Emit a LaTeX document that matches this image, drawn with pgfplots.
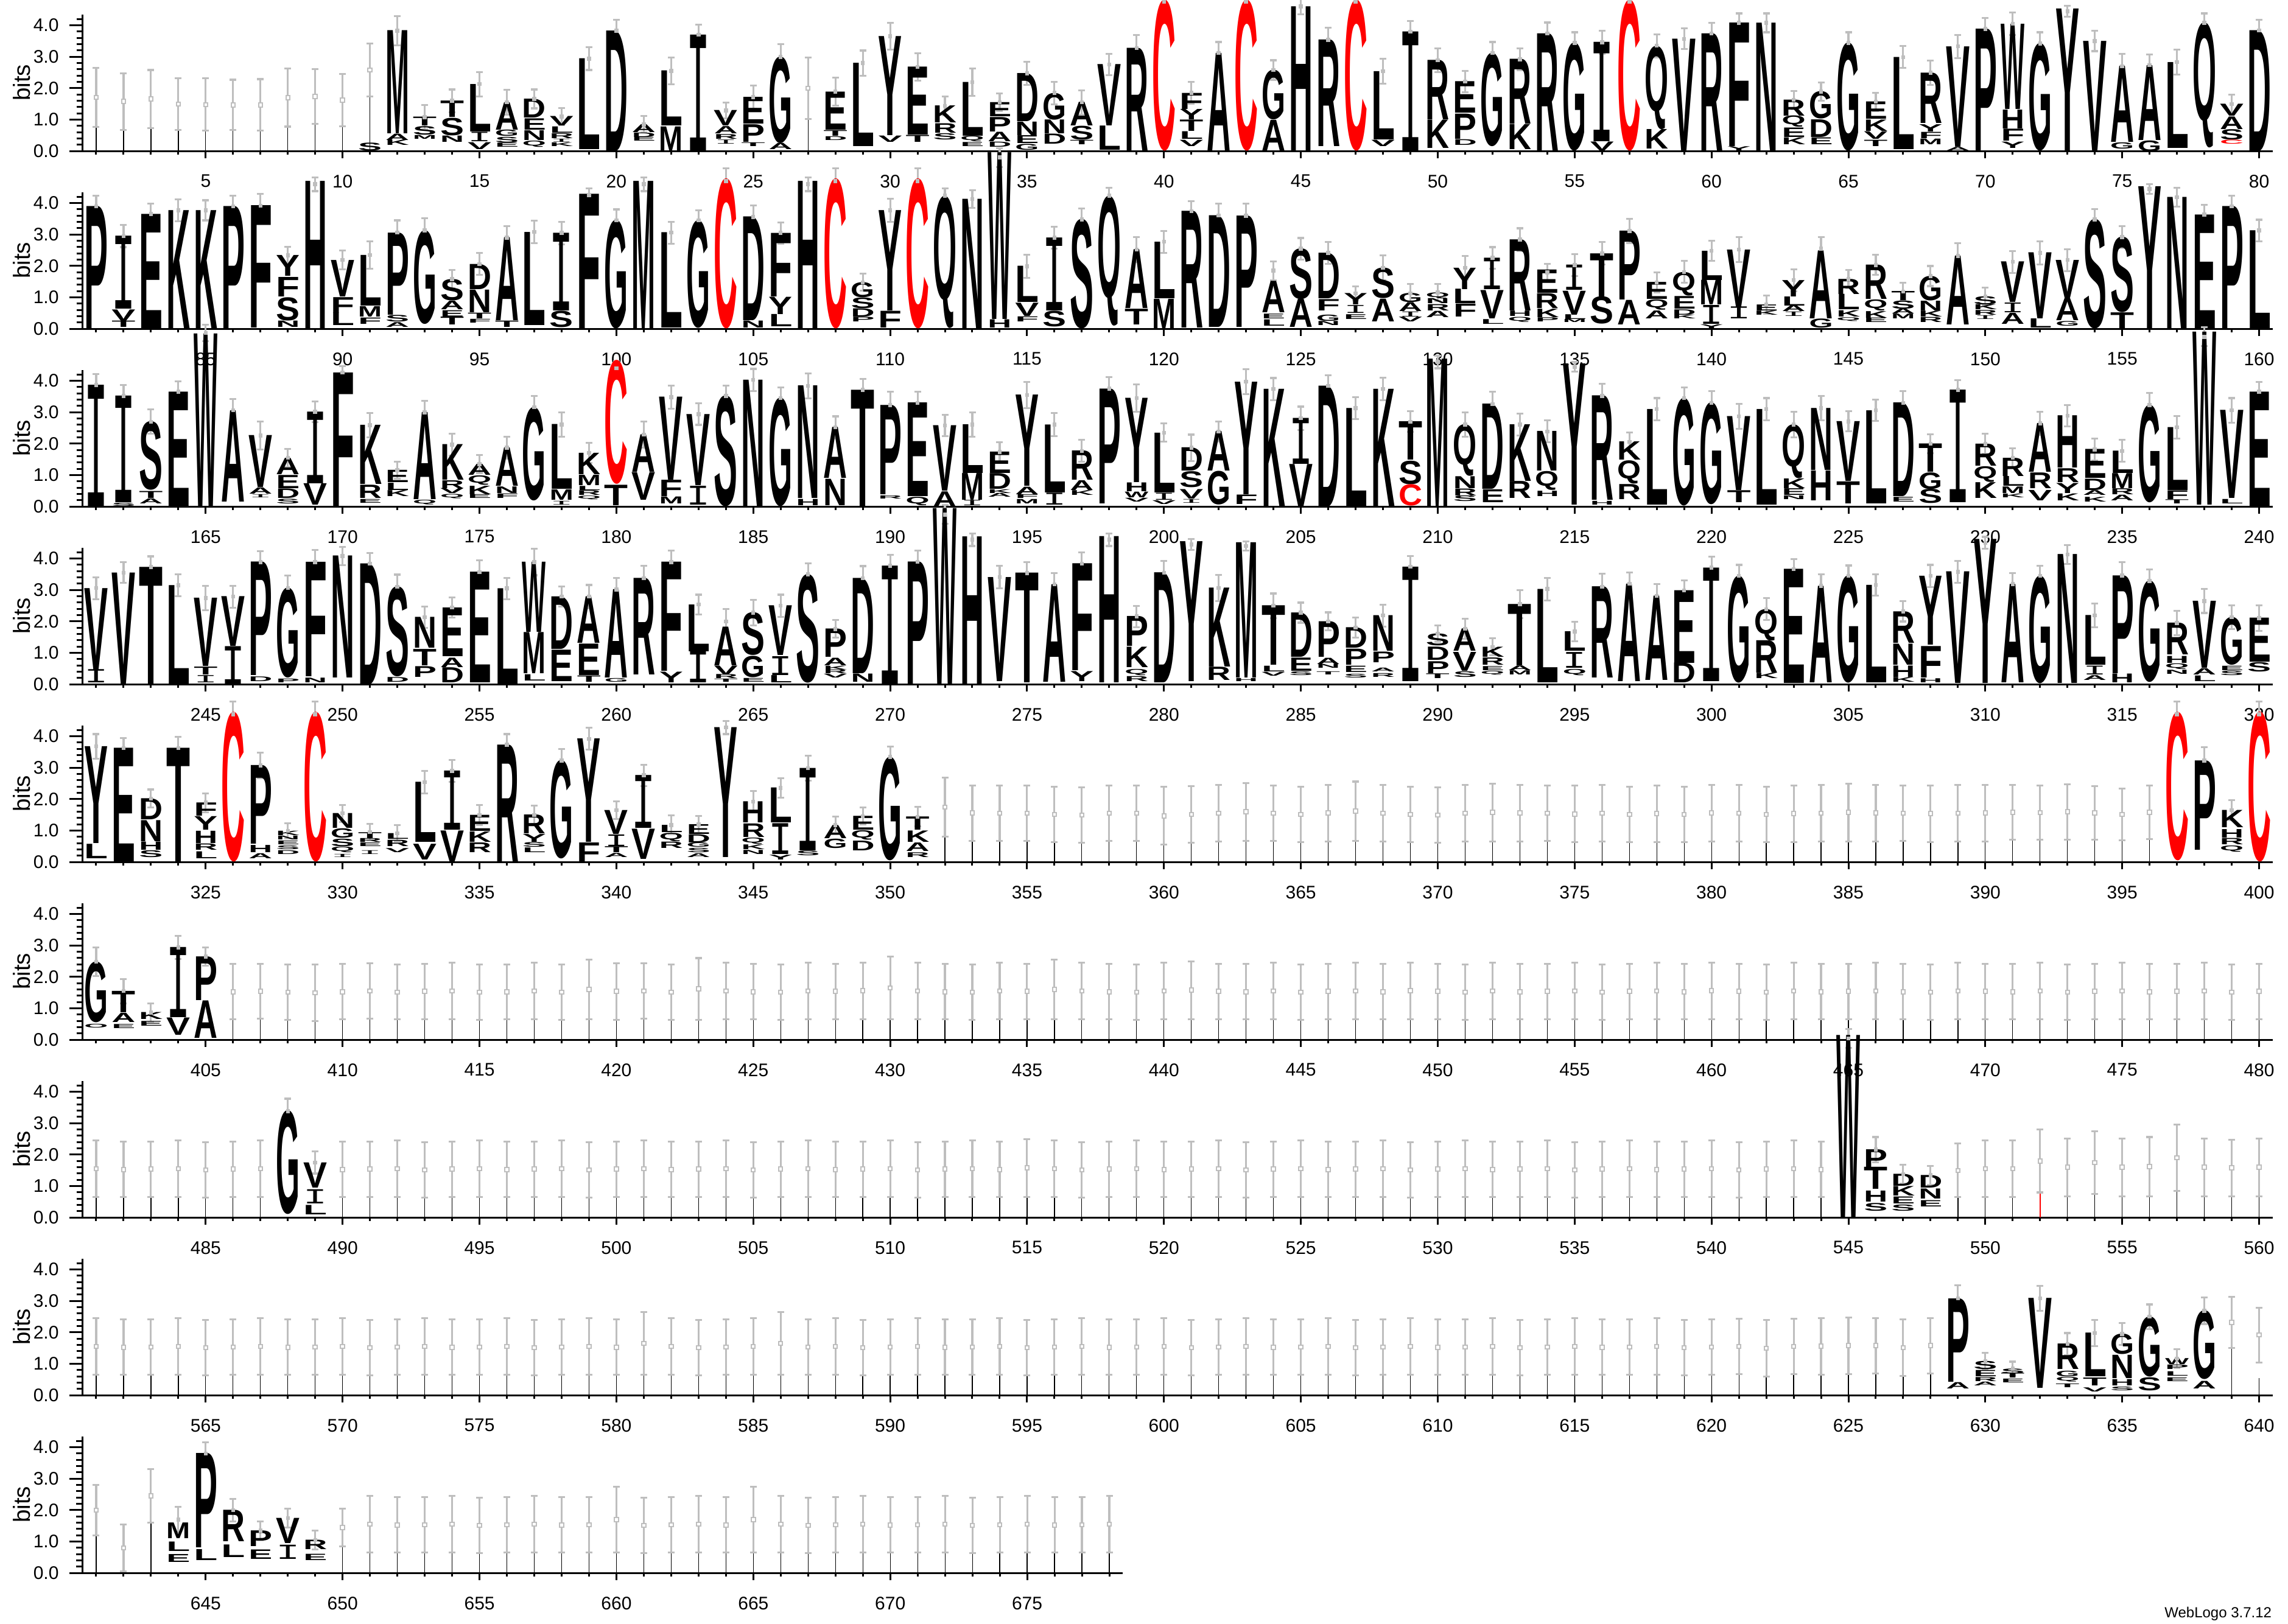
\documentclass[border=0pt]{standalone}
\usepackage{pgfplots}
\pgfplotsset{compat=1.18}
\usepackage{pgfplotstable}
\usepackage{graphicx}
\usepackage{fontspec}
\setmainfont{Liberation Sans}
\newfontfamily\logofont{Liberation Sans}
\newfontfamily\logomono{Liberation Mono}
\definecolor{errgray}{RGB}{190,190,190}
\def\letterC{C}\def\letterI{I}
\newcommand\logoletter[2]{%
  \edef\tmpL{#1}%
  \pgfmathsetlengthmacro\LH{#2*10.333}%
  \ifx\tmpL\letterC\def\lcol{red}\else\def\lcol{black}\fi
  \ifx\tmpL\letterI\def\lfam{\logomono\mdseries}\else\def\lfam{\logofont\bfseries}\fi
  \resizebox*{7.8pt}{\LH}{\textcolor{\lcol}{\lfam\tmpL}}}

% ---------------- letters (x, base, height, letter) ----------------
\pgfplotstableread[row sep=\\]{
x b h l\\
11 0.02 0.25 S\\
12 0.55 3.28 M\\ 12 0.35 0.2 A\\ 12 0.18 0.17 K\\
13 0.8 0.28 T\\ 13 0.52 0.27 S\\ 13 0.38 0.12 M\\
14 1.08 0.52 T\\ 14 0.5 0.56 S\\ 14 0.28 0.2 N\\
15 0.62 1.51 L\\ 15 0.3 0.3 I\\ 15 0.06 0.22 V\\
16 0.68 0.87 A\\ 16 0.47 0.2 G\\ 16 0.27 0.18 S\\ 16 0.13 0.13 E\\
17 1.06 0.6 D\\ 17 0.68 0.36 E\\ 17 0.35 0.31 N\\ 17 0.12 0.2 Q\\
18 0.8 0.3 V\\ 18 0.58 0.2 L\\ 18 0.4 0.16 R\\ 18 0.29 0.1 I\\ 18 0.16 0.12 K\\
19 0.05 2.89 L\\
20 0 3.83 D\\
21 0.6 0.25 A\\ 21 0.45 0.14 D\\ 21 0.32 0.12 E\\
22 0.8 1.75 L\\ 22 0.02 0.76 M\\
23 0 3.7 I\\
24 0.8 0.49 V\\ 24 0.55 0.23 A\\ 24 0.38 0.15 R\\ 24 0.22 0.13 I\\
25 0.87 0.85 E\\ 25 0.29 0.56 P\\ 25 0.15 0.12 T\\
26 0.25 2.75 G\\ 26 0.05 0.2 A\\
28 0.68 1.21 E\\ 28 0.48 0.18 T\\ 28 0.35 0.12 D\\
29 0.15 2.65 L\\
30 0.5 3.15 Y\\ 30 0.28 0.2 V\\
31 0.52 2.16 E\\ 31 0.28 0.22 T\\
32 0.9 0.54 K\\ 32 0.58 0.3 R\\ 32 0.36 0.2 S\\
33 0.48 1.71 L\\ 33 0.3 0.17 Q\\ 33 0.16 0.13 E\\
34 1.1 0.45 E\\ 34 0.62 0.46 P\\ 34 0.3 0.3 A\\ 34 0.13 0.16 D\\
35 0.94 1.53 D\\ 35 0.5 0.43 N\\ 35 0.24 0.25 E\\ 35 0.04 0.19 G\\
36 1.0 0.85 G\\ 36 0.55 0.44 N\\ 36 0.22 0.32 D\\
37 0.8 0.75 A\\ 37 0.35 0.44 S\\ 37 0.2 0.14 T\\
38 0.8 1.95 V\\ 38 0.03 0.77 L\\
39 0.02 3.26 R\\
40 0 4.8 C\\
41 1.34 0.51 F\\ 41 1.0 0.33 Y\\ 41 0.63 0.36 T\\ 41 0.38 0.24 L\\ 41 0.15 0.2 V\\
42 0.02 3.1 A\\
43 0 4.8 C\\
44 1.0 1.58 G\\ 44 0.02 0.97 A\\
45 0 4.6 H\\
46 0.15 3.39 R\\
47 0 4.8 C\\
48 0.37 2.17 L\\ 48 0.15 0.2 V\\
49 0 3.8 I\\
50 1.0 1.89 R\\ 50 0.1 0.9 K\\
51 1.21 1.0 E\\ 51 0.38 0.8 P\\ 51 0.18 0.18 D\\
52 0.15 2.97 G\\
53 0.86 2.06 R\\ 53 0.05 0.8 K\\
54 0 3.74 R\\
55 0 3.44 G\\
56 0.3 3.16 I\\ 56 0.02 0.28 V\\
57 0 4.8 C\\
58 0.7 2.65 Q\\ 58 0.08 0.62 K\\
59 0 3.57 V\\
60 0 3.74 R\\
61 0.15 3.93 F\\ 61 0.02 0.13 Y\\
62 0 4.08 N\\
63 1.12 0.51 R\\ 63 0.76 0.36 Q\\ 63 0.44 0.3 E\\ 63 0.2 0.22 K\\
64 1.02 0.87 G\\ 64 0.44 0.56 D\\ 64 0.2 0.22 E\\
65 0 3.44 G\\
66 1.02 0.55 E\\ 66 0.64 0.36 K\\ 66 0.38 0.24 V\\ 66 0.16 0.2 T\\
67 0.06 2.93 L\\
68 0.89 1.6 R\\ 68 0.62 0.23 Y\\ 68 0.4 0.2 F\\ 68 0.2 0.18 M\\
69 0.14 3.19 V\\ 69 0.02 0.11 A\\
70 0 3.89 P\\
71 1.34 2.71 W\\ 71 0.72 0.6 H\\ 71 0.32 0.38 F\\ 71 0.1 0.2 Y\\
72 0 3.42 G\\
73 0 4.53 Y\\
74 0 3.5 V\\
75 0.28 2.42 A\\ 75 0.07 0.2 G\\
76 0.35 2.38 A\\ 76 0 0.34 G\\
77 0.1 2.73 L\\
78 0.1 3.98 Q\\
79 1.12 0.38 V\\ 79 0.7 0.4 A\\ 79 0.36 0.33 S\\ 79 0.22 0.13 C\\
80 0 3.84 D\\
}\LA
\pgfplotstableread[row sep=\\]{
x b h l\\
81 0 3.9 P\\
82 0.63 2.32 I\\ 82 0.25 0.36 V\\ 82 0.05 0.2 T\\
83 0 3.65 E\\
84 0 3.77 K\\
85 0 3.77 K\\
86 0 3.9 P\\
87 0.03 3.89 F\\
88 1.68 0.66 Y\\ 88 1.03 0.62 F\\ 88 0.26 0.74 S\\ 88 0.05 0.2 N\\
89 0 4.7 H\\
90 1.03 1.16 V\\ 90 0.5 0.5 F\\ 90 0.12 0.4 L\\
91 0.74 1.61 L\\ 91 0.38 0.33 M\\ 91 0.16 0.2 F\\
92 0.45 2.61 P\\ 92 0.22 0.21 S\\ 92 0.05 0.15 A\\
93 0.15 2.98 G\\
94 0.9 0.68 S\\ 94 0.61 0.27 A\\ 94 0.39 0.2 E\\ 94 0.13 0.25 T\\
95 1.26 0.8 D\\ 95 0.52 0.72 N\\ 95 0.32 0.18 T\\ 95 0.18 0.12 F\\
96 0.26 2.64 A\\ 96 0.05 0.2 T\\
97 0.12 2.96 L\\
98 0.58 2.47 I\\ 98 0.05 0.52 S\\
99 0 4.29 F\\
100 0 3.45 G\\
101 0 4.7 M\\
102 0.03 3.03 L\\
103 0.03 3.42 G\\
104 0 4.77 C\\
105 0.26 3.3 D\\ 105 0.03 0.22 N\\
106 1.03 2.02 F\\ 106 0.46 0.55 Y\\ 106 0.07 0.39 L\\
107 0 4.7 H\\
108 0 4.77 C\\
109 1.0 0.48 G\\ 109 0.64 0.34 S\\ 109 0.38 0.26 D\\ 109 0.23 0.15 P\\
110 0.58 3.19 Y\\ 110 0.04 0.53 F\\
111 0 4.77 C\\
112 0.03 4.2 Q\\
113 0 4.13 N\\
114 0.3 5.3 W\\ 114 0.03 0.26 H\\
115 0.84 1.15 L\\ 115 0.4 0.42 V\\ 115 0.22 0.16 F\\
116 0.58 2.32 I\\ 116 0.06 0.5 S\\
117 0 3.48 S\\
118 0.1 4.13 Q\\
119 0.65 1.87 A\\ 119 0.13 0.5 T\\
120 0.97 1.8 L\\ 120 0 0.95 M\\
121 0.03 3.71 R\\
122 0.06 3.55 D\\
123 0.06 3.54 P\\
124 0.52 1.0 A\\ 124 0.32 0.15 E\\ 124 0.1 0.2 L\\
125 0.94 1.61 S\\ 125 0.05 0.9 A\\
126 0.97 1.45 D\\ 126 0.58 0.36 F\\ 126 0.25 0.2 G\\ 126 0.12 0.13 N\\
127 0.77 0.36 Y\\ 127 0.5 0.25 I\\ 127 0.3 0.15 E\\
128 0.97 0.97 S\\ 128 0.23 0.72 A\\
129 0.84 0.29 G\\ 129 0.55 0.28 A\\ 129 0.39 0.16 I\\ 129 0.23 0.15 V\\
130 0.97 0.19 Q\\ 130 0.81 0.16 N\\ 130 0.58 0.2 R\\ 130 0.36 0.2 A\\
131 1.26 0.68 Y\\ 131 0.8 0.46 L\\ 131 0.39 0.41 F\\
132 1.25 1.0 I\\ 132 0.32 0.9 V\\ 132 0.15 0.15 L\\
133 0.58 2.26 R\\ 133 0.4 0.17 H\\ 133 0.22 0.16 Q\\
134 1.13 0.74 E\\ 134 0.65 0.47 R\\ 134 0.36 0.27 K\\ 134 0.22 0.13 P\\
135 1.23 0.8 I\\ 135 0.45 0.76 V\\ 135 0.3 0.15 L\\ 135 0.2 0.1 M\\
136 1.03 1.37 T\\ 136 0.15 0.87 S\\
137 0.92 2.19 P\\ 137 0.13 0.78 A\\
138 0.94 0.54 E\\ 138 0.6 0.33 Q\\ 138 0.33 0.25 A\\
139 1.06 0.75 Q\\ 139 0.64 0.4 E\\ 139 0.45 0.17 D\\ 139 0.32 0.12 K\\
140 1.55 0.93 L\\ 140 0.77 0.78 M\\ 140 0.15 0.6 I\\ 140 0.02 0.12 Y\\
141 0.7 1.82 V\\ 141 0.32 0.38 I\\
142 0.58 0.19 E\\ 142 0.45 0.13 K\\
143 1.03 0.52 Y\\ 143 0.74 0.29 L\\ 143 0.55 0.19 A\\ 143 0.4 0.14 I\\
144 0.32 2.16 A\\ 144 0.03 0.29 G\\
145 1.1 0.48 R\\ 145 0.61 0.49 L\\ 145 0.39 0.2 K\\ 145 0.25 0.12 Q\\
146 0.94 1.09 R\\ 146 0.58 0.35 Q\\ 146 0.35 0.21 K\\ 146 0.2 0.14 E\\
147 0.9 0.29 T\\ 147 0.64 0.26 S\\ 147 0.48 0.16 A\\ 147 0.33 0.15 M\\
148 0.9 0.78 G\\ 148 0.58 0.31 N\\ 148 0.39 0.19 K\\ 148 0.2 0.16 R\\
149 0.13 2.19 A\\
150 0.77 0.26 S\\ 150 0.61 0.16 K\\ 150 0.45 0.15 R\\ 150 0.3 0.12 I\\
151 0.84 1.29 V\\ 151 0.52 0.31 I\\ 151 0.16 0.35 A\\
152 0.32 2.1 V\\ 152 0.03 0.29 L\\
153 0.97 1.22 V\\ 153 0.26 0.7 A\\ 153 0.1 0.15 G\\
154 0 3.48 S\\
155 0.52 2.4 S\\ 155 0 0.52 T\\
156 0 4.53 Y\\
157 0 4.19 N\\
158 0 3.63 E\\
159 0 3.9 P\\
160 0 3.13 L\\
}\LB
\pgfplotstableread[row sep=\\]{
x b h l\\
161 0 3.87 I\\
162 0.13 3.39 I\\ 162 0.02 0.1 S\\
163 0.52 2.18 S\\ 163 0.26 0.22 T\\ 163 0.1 0.16 A\\
164 0 3.65 E\\
165 0 5.5 W\\
166 0.16 2.9 A\\
167 0.61 1.65 V\\ 167 0.4 0.2 A\\ 167 0.28 0.1 I\\
168 1.03 0.52 A\\ 168 0.58 0.42 E\\ 168 0.26 0.3 D\\ 168 0.1 0.15 S\\
169 0.74 2.28 I\\ 169 0.06 0.68 V\\
170 0 4.26 F\\
171 0.71 1.88 K\\ 171 0.26 0.42 R\\ 171 0.12 0.12 E\\
172 0.77 0.39 E\\ 172 0.52 0.23 L\\ 172 0.32 0.19 K\\
173 0.23 2.77 A\\ 173 0.06 0.15 Q\\
174 0.84 1.13 K\\ 174 0.58 0.25 R\\ 174 0.42 0.16 V\\ 174 0.26 0.14 Q\\
175 1.0 0.35 A\\ 175 0.68 0.3 Q\\ 175 0.39 0.27 K\\ 175 0.26 0.12 E\\
176 0.65 1.22 A\\ 176 0.42 0.21 N\\ 176 0.26 0.14 F\\
177 0.19 2.97 G\\
178 0.55 2.06 L\\ 178 0.2 0.33 M\\ 178 0.06 0.12 I\\
179 1.03 0.68 K\\ 179 0.68 0.33 M\\ 179 0.52 0.13 L\\ 179 0.36 0.15 R\\ 179 0.23 0.12 Q\\
180 0.71 3.94 C\\ 180 0.03 0.65 T\\
181 1.1 1.19 A\\ 181 0.2 0.88 V\\
182 0.84 2.64 V\\ 182 0.32 0.52 F\\ 182 0.1 0.22 M\\
183 0.68 2.26 V\\ 183 0.06 0.6 I\\
184 0 3.52 S\\
185 0 4.03 N\\
186 0 3.45 G\\
187 0.26 3.58 N\\ 187 0.03 0.2 H\\
188 0.9 1.62 A\\ 188 0.03 0.84 N\\
189 0 3.71 T\\
190 0.39 2.84 P\\ 190 0.25 0.1 R\\
191 0.32 2.98 E\\ 191 0.03 0.27 Q\\
192 0.5 2.08 V\\ 192 0 0.48 A\\
193 1.06 1.55 L\\ 193 0.2 0.85 M\\ 193 0.03 0.17 I\\
194 1.06 0.68 E\\ 194 0.55 0.5 D\\ 194 0.42 0.12 K\\ 194 0.3 0.12 A\\
195 0.65 2.9 Y\\ 195 0.39 0.24 A\\ 195 0.26 0.12 F\\ 195 0.1 0.14 M\\
196 0.45 2.16 L\\ 196 0.06 0.38 I\\
197 0.84 0.93 R\\ 197 0.52 0.31 A\\ 197 0.36 0.15 K\\
198 0.1 3.65 P\\
199 0.77 2.68 Y\\ 199 0.48 0.28 H\\ 199 0.29 0.18 W\\ 199 0.16 0.12 V\\
200 0.45 1.9 L\\ 200 0.2 0.22 I\\ 200 0.08 0.12 V\\
201 1.13 0.74 D\\ 201 0.6 0.51 S\\ 201 0.25 0.3 V\\ 201 0.12 0.12 I\\
202 1.13 1.26 A\\ 202 0.06 1.07 G\\
203 0.39 3.58 Y\\ 203 0.08 0.3 F\\
204 0 3.74 K\\
205 1.35 1.46 I\\ 205 0 1.35 V\\
206 0 3.84 D\\
207 0 3.13 L\\
208 0 3.74 K\\
209 1.48 1.22 T\\ 209 0.71 0.75 S\\ 209 0.03 0.68 C\\
210 0 4.7 M\\
211 0.97 1.64 Q\\ 211 0.58 0.38 N\\ 211 0.35 0.22 R\\ 211 0.16 0.18 S\\
212 0.55 2.71 D\\ 212 0.13 0.41 E\\
213 0.81 1.8 K\\ 213 0.26 0.54 R\\
214 1.13 1.26 N\\ 214 0.52 0.6 Q\\ 214 0.32 0.17 H\\
215 0.06 4.49 Y\\
216 0.2 3.32 R\\ 216 0.06 0.12 H\\
217 1.48 0.58 K\\ 217 0.72 0.74 Q\\ 217 0.22 0.48 R\\
218 0.06 3.04 L\\
219 0.03 3.42 G\\
220 0.06 3.24 G\\
221 0.52 2.35 V\\ 221 0.13 0.38 T\\
222 0.06 3.04 L\\
223 0.9 1.71 Q\\ 223 0.58 0.31 K\\ 223 0.36 0.21 E\\ 223 0.22 0.12 N\\
224 1.16 1.97 N\\ 224 0.19 0.95 H\\
225 0.81 1.9 V\\ 225 0.1 0.7 T\\
226 0.1 2.96 L\\
227 0.32 2.98 D\\ 227 0.16 0.15 E\\
228 1.1 0.9 T\\ 228 0.55 0.53 G\\ 228 0.1 0.45 S\\
229 0.13 3.58 I\\
230 1.29 0.7 R\\ 230 0.78 0.5 Q\\ 230 0.26 0.5 K\\
231 0.97 0.58 R\\ 231 0.65 0.31 L\\ 231 0.42 0.21 M\\ 231 0.29 0.12 K\\
232 1.1 1.55 A\\ 232 0.58 0.5 R\\ 232 0.19 0.33 V\\
233 1.23 1.66 H\\ 233 0.77 0.44 R\\ 233 0.42 0.32 Y\\ 233 0.19 0.22 K\\
234 0.9 0.92 E\\ 234 0.52 0.36 D\\ 234 0.36 0.15 A\\ 234 0.16 0.15 K\\
235 1.06 0.71 L\\ 235 0.58 0.48 M\\ 235 0.38 0.19 R\\ 235 0.19 0.18 A\\
236 0.13 3.1 G\\
237 0.52 2.0 L\\ 237 0.23 0.28 F\\ 237 0.1 0.13 T\\
238 0.06 5.5 W\\
239 0.26 2.8 V\\ 239 0.1 0.14 L\\
240 0 3.65 E\\
}\LC
\pgfplotstableread[row sep=\\]{
x b h l\\
241 0.47 2.59 V\\ 241 0.05 0.42 I\\
242 0.02 3.53 V\\
243 0.02 3.71 T\\
244 0 3.15 L\\
245 0.57 2.17 V\\ 245 0.3 0.25 T\\ 245 0.05 0.23 I\\
246 1.21 1.58 V\\ 246 0.02 1.19 I\\
247 0.28 3.61 P\\ 247 0.1 0.15 D\\
248 0.2 2.86 G\\ 248 0.06 0.12 P\\
249 0.25 3.64 F\\ 249 0.06 0.15 N\\
250 0.2 3.88 N\\
251 0 3.84 D\\
252 0.24 2.86 S\\ 252 0.08 0.15 D\\
253 1.15 0.98 N\\ 253 0.6 0.52 T\\ 253 0.22 0.34 P\\
254 0.89 1.55 E\\ 254 0.53 0.3 A\\ 254 0.05 0.48 D\\
255 0.05 3.52 E\\
256 0 3.05 L\\
257 1.66 2.23 W\\ 257 0.34 1.31 M\\ 257 0.12 0.2 L\\
258 1.12 1.67 D\\ 258 0.1 1.0 E\\
259 1.31 1.48 A\\ 259 0.28 1.0 E\\ 259 0.08 0.2 T\\
260 0.21 2.81 A\\ 260 0.08 0.12 G\\
261 0.3 3.07 R\\
262 0.42 3.47 F\\ 262 0.05 0.34 Y\\
263 1.05 1.49 L\\ 263 0.05 1.0 I\\
264 0.6 1.23 A\\ 264 0.31 0.28 V\\ 264 0.18 0.13 R\\ 264 0.08 0.1 T\\
265 0.92 1.36 S\\ 265 0.22 0.68 G\\ 265 0.08 0.12 E\\
266 0.92 1.58 V\\ 266 0.28 0.6 I\\ 266 0.05 0.23 L\\
267 0.05 3.45 S\\
268 0.86 0.9 P\\ 268 0.6 0.24 A\\ 268 0.47 0.12 K\\ 268 0.34 0.12 R\\ 268 0.21 0.12 V\\
269 0.34 3.03 D\\ 269 0.08 0.26 N\\
270 0 3.77 I\\
271 0 3.9 P\\
272 0 5.6 W\\
273 0 4.7 H\\
274 0.1 3.31 V\\
275 0.05 3.49 T\\
276 0.08 3.1 A\\
277 0.44 3.4 F\\ 277 0.1 0.32 Y\\
278 0.05 4.65 H\\
279 1.21 0.95 P\\ 279 0.54 0.65 K\\ 279 0.28 0.2 Q\\ 279 0.1 0.16 R\\
280 0.05 3.5 D\\
281 0.1 4.45 Y\\
282 0.55 2.51 K\\ 282 0.13 0.42 R\\
283 0.2 4.3 M\\ 283 0.1 0.1 H\\
284 0.61 1.89 T\\ 284 0.4 0.18 L\\ 284 0.26 0.12 V\\
285 0.87 1.41 D\\ 285 0.42 0.42 E\\ 285 0.28 0.12 S\\
286 0.87 1.13 P\\ 286 0.64 0.2 A\\ 286 0.52 0.12 N\\ 286 0.3 0.1 T\\
287 1.16 0.65 D\\ 287 0.62 0.51 P\\ 287 0.38 0.2 E\\ 287 0.2 0.12 S\\
288 1.06 1.13 N\\ 288 0.7 0.34 P\\ 288 0.4 0.12 A\\ 288 0.23 0.12 R\\
289 0.1 3.64 I\\
290 1.23 0.38 S\\ 290 0.77 0.42 D\\ 290 0.35 0.38 P\\ 290 0.19 0.15 T\\
291 1.06 0.71 A\\ 291 0.42 0.6 V\\ 291 0.22 0.18 S\\
292 0.87 0.32 K\\ 292 0.61 0.23 R\\ 292 0.45 0.13 E\\ 292 0.3 0.12 Q\\
293 0.6 1.95 T\\ 293 0.45 0.15 A\\ 293 0.3 0.13 M\\
294 0.06 2.97 L\\
295 1.06 0.62 L\\ 295 0.52 0.5 I\\ 295 0.29 0.2 Q\\
296 0.2 2.9 R\\
297 0.1 3.1 A\\
298 0.13 2.68 A\\
299 0.68 2.31 E\\ 299 0.05 0.63 D\\
300 0.1 3.61 I\\
301 0.05 3.4 G\\
302 1.39 1.0 Q\\ 302 0.36 1.03 R\\ 302 0.19 0.17 K\\
303 0.03 3.63 E\\
304 0.06 3.07 A\\
305 0.04 3.41 G\\
306 0.06 3.1 L\\
307 1.32 1.0 R\\ 307 0.62 0.67 N\\ 307 0.23 0.36 H\\ 307 0.08 0.15 K\\
308 1.26 2.19 Y\\ 308 0.2 1.0 F\\ 308 0.06 0.13 H\\
309 0.03 3.55 V\\
310 0.03 4.58 Y\\
311 0.06 3.13 A\\
312 0.03 3.42 G\\
313 0.03 4.1 N\\
314 0.61 1.58 L\\ 314 0.3 0.28 I\\ 314 0.13 0.15 A\\
315 0.35 3.11 P\\ 315 0.06 0.28 H\\
316 0.06 3.23 G\\
317 0.94 1.01 R\\ 317 0.68 0.22 H\\ 317 0.48 0.18 Q\\ 317 0.32 0.13 N\\
318 0.52 2.13 V\\ 318 0.3 0.2 A\\ 318 0.1 0.18 L\\
319 0.61 1.52 G\\ 319 0.45 0.14 E\\ 319 0.28 0.14 S\\
320 0.71 1.4 E\\ 320 0.39 0.3 S\\
}\LD
\pgfplotstableread[row sep=\\]{
x b h l\\
321 0.6 3.08 Y\\ 321 0.12 0.46 L\\
322 0 3.63 E\\
323 1.35 0.67 D\\ 323 0.66 0.67 N\\ 323 0.38 0.26 H\\ 323 0.15 0.22 S\\
324 0.02 3.61 T\\
325 1.47 0.42 F\\ 325 1.02 0.43 Y\\ 325 0.6 0.39 H\\ 325 0.38 0.2 R\\ 325 0.12 0.22 L\\
326 0 4.76 C\\
327 0.57 2.5 P\\ 327 0.3 0.23 H\\ 327 0.12 0.16 A\\
328 0.85 0.14 K\\ 328 0.72 0.12 N\\ 328 0.55 0.12 E\\ 328 0.4 0.12 S\\ 328 0.25 0.12 D\\
329 0 4.76 C\\
330 1.08 0.47 N\\ 330 0.76 0.3 G\\ 330 0.5 0.24 S\\ 330 0.31 0.18 Q\\ 330 0.15 0.1 I\\
331 0.76 0.19 T\\ 331 0.63 0.12 R\\ 331 0.5 0.12 E\\ 331 0.25 0.12 I\\
332 0.74 0.18 L\\ 332 0.5 0.2 R\\ 332 0.3 0.13 V\\
333 0.63 1.91 L\\ 333 0.08 0.5 V\\
334 1.02 1.88 I\\ 334 0.02 0.98 V\\
335 0.99 0.51 E\\ 335 0.63 0.33 K\\ 335 0.3 0.31 R\\
336 0 3.73 R\\
337 0.9 0.6 R\\ 337 0.63 0.25 Y\\ 337 0.47 0.15 S\\ 337 0.3 0.15 L\\
338 0.1 3.13 G\\
339 0.63 3.29 Y\\ 339 0.02 0.6 F\\
340 0.89 0.76 V\\ 340 0.5 0.37 I\\ 340 0.3 0.19 T\\ 340 0.15 0.13 A\\
341 1.08 1.68 I\\ 341 0.1 0.96 V\\
342 0.95 0.23 L\\ 342 0.66 0.27 Q\\ 342 0.44 0.2 R\\
343 0.89 0.31 E\\ 343 0.62 0.26 D\\ 343 0.47 0.14 G\\ 343 0.3 0.14 S\\ 343 0.15 0.12 A\\
344 0.15 4.13 Y\\
345 1.25 0.67 H\\ 345 0.79 0.43 R\\ 345 0.57 0.2 Q\\ 345 0.4 0.15 K\\ 345 0.25 0.13 N\\
346 1.25 1.11 L\\ 346 0.25 0.98 I\\ 346 0.08 0.15 Y\\
347 0.37 2.62 I\\ 347 0.2 0.15 S\\
348 0.76 0.42 A\\ 348 0.44 0.3 G\\
349 1.02 0.44 E\\ 349 0.7 0.3 Q\\ 349 0.37 0.31 D\\
350 0.05 3.29 G\\
351 1.02 0.42 T\\ 351 0.63 0.36 K\\ 351 0.34 0.27 A\\ 351 0.15 0.15 R\\
397 0.05 4.72 C\\
398 0.39 2.84 P\\
399 1.1 0.55 K\\ 399 0.78 0.27 H\\ 399 0.55 0.2 R\\ 399 0.32 0.2 Q\\
400 0 4.77 C\\
}\LE
\pgfplotstableread[row sep=\\]{
x b h l\\
401 0.55 1.93 G\\ 401 0.38 0.12 O\\
402 0.87 0.68 T\\ 402 0.55 0.29 A\\ 402 0.37 0.13 E\\
403 0.65 0.22 K\\ 403 0.45 0.15 E\\
404 0.71 2.23 I\\ 404 0.16 0.55 V\\
405 1.26 1.39 P\\ 405 0.06 1.19 A\\
}\LF
\pgfplotstableread[row sep=\\]{
x b h l\\
488 0.1 3.3 G\\
489 0.95 0.8 V\\ 489 0.45 0.45 I\\ 489 0.1 0.3 L\\
545 0 5.8 W\\
546 1.6 0.56 P\\ 546 0.9 0.7 T\\ 546 0.5 0.35 H\\ 546 0.2 0.25 S\\
547 1.0 0.38 D\\ 547 0.7 0.3 K\\ 547 0.45 0.22 E\\ 547 0.2 0.2 S\\
548 0.95 0.4 D\\ 548 0.6 0.32 N\\ 548 0.35 0.2 E\\
}\LG
\pgfplotstableread[row sep=\\]{
x b h l\\
629 0.43 2.65 P\\ 629 0.2 0.2 A\\
630 0.82 0.26 S\\ 630 0.6 0.2 E\\ 630 0.45 0.13 R\\ 630 0.3 0.12 A\\
631 0.7 0.15 S\\ 631 0.55 0.15 T\\ 631 0.4 0.12 E\\
632 0.22 2.86 V\\
633 0.82 0.81 R\\ 633 0.6 0.18 G\\ 633 0.42 0.15 Q\\ 633 0.25 0.12 T\\
634 0.59 1.39 L\\ 634 0.3 0.25 T\\ 634 0.12 0.13 V\\
635 1.3 0.65 G\\ 635 0.53 0.74 N\\ 635 0.3 0.2 H\\ 635 0.15 0.12 S\\
636 0.59 1.91 G\\ 636 0.15 0.42 S\\
637 0.98 0.19 W\\ 637 0.82 0.14 P\\ 637 0.62 0.14 L\\ 637 0.45 0.12 E\\
638 0.5 2.19 G\\ 638 0.2 0.24 A\\
}\LH
\pgfplotstableread[row sep=\\]{
x b h l\\
644 1.1 0.5 M\\ 644 0.7 0.3 L\\ 644 0.35 0.25 E\\
645 0.8 3.0 P\\ 645 0.4 0.35 L\\
646 1.0 1.0 R\\ 646 0.5 0.4 L\\
647 0.85 0.5 P\\ 647 0.45 0.3 E\\
648 0.95 0.8 V\\ 648 0.45 0.45 I\\
649 0.75 0.3 R\\ 649 0.4 0.2 E\\
}\LI

% ---------------- error bars at letter stacks (x, centre, error) ----------------
\pgfplotstableread[row sep=\\]{
x c e\\
12 3.83 0.47\\ 13 1.08 0.39\\ 14 1.6 0.36\\ 15 2.13 0.39\\ 16 1.55 0.4\\ 17 1.66 0.3\\ 18 1.1 0.27\\ 19 2.94 0.36\\ 20 3.83 0.34\\
21 0.85 0.26\\ 22 2.55 0.42\\ 23 3.7 0.32\\ 24 1.29 0.25\\ 25 1.72 0.37\\ 26 3.0 0.4\\ 28 1.89 0.45\\ 29 2.8 0.4\\ 30 3.65 0.43\\
31 2.68 0.44\\ 32 1.44 0.3\\ 33 2.19 0.43\\ 34 1.55 0.28\\ 35 2.47 0.37\\ 36 1.85 0.36\\ 37 1.55 0.39\\ 38 2.75 0.34\\ 39 3.28 0.41\\ 40 4.75 0.43\\
41 1.85 0.35\\ 42 3.12 0.35\\ 43 4.75 0.43\\ 44 2.58 0.31\\ 45 4.6 0.25\\ 46 3.54 0.39\\ 47 4.75 0.43\\ 48 2.54 0.4\\ 49 3.8 0.34\\ 50 2.89 0.37\\
51 2.21 0.34\\ 52 3.12 0.35\\ 53 2.92 0.34\\ 54 3.74 0.35\\ 55 3.44 0.34\\ 56 3.46 0.36\\ 57 4.75 0.43\\ 58 3.35 0.37\\ 59 3.57 0.33\\ 60 3.74 0.34\\
61 4.08 0.3\\ 62 4.08 0.3\\ 63 1.63 0.29\\ 64 1.89 0.29\\ 65 3.44 0.34\\ 66 1.57 0.29\\ 67 2.99 0.35\\ 68 2.49 0.39\\ 69 3.33 0.37\\ 70 3.89 0.35\\
71 4.05 0.36\\ 72 3.42 0.36\\ 73 4.45 0.17\\ 74 3.5 0.32\\ 75 2.7 0.39\\ 76 2.73 0.35\\ 77 2.83 0.4\\ 78 4.08 0.3\\ 79 1.5 0.3\\ 80 3.84 0.34\\
}\EA
\pgfplotstableread[row sep=\\]{
x c e\\
81 3.9 0.33\\ 82 2.95 0.35\\ 83 3.65 0.33\\ 84 3.77 0.34\\ 85 3.77 0.32\\ 86 3.9 0.33\\ 87 3.92 0.37\\ 88 2.34 0.27\\ 89 4.6 0.22\\ 90 2.19 0.3\\
91 2.35 0.43\\ 92 3.06 0.39\\ 93 3.13 0.38\\ 94 1.58 0.29\\ 95 2.06 0.35\\ 96 2.9 0.36\\ 97 3.08 0.36\\ 98 3.05 0.36\\ 99 4.25 0.22\\ 100 3.45 0.35\\
101 4.6 0.22\\ 102 3.06 0.35\\ 103 3.45 0.32\\ 104 4.7 0.4\\ 105 3.56 0.37\\ 106 3.05 0.34\\ 107 4.6 0.22\\ 108 4.7 0.4\\ 109 1.48 0.27\\ 110 3.77 0.37\\
111 4.7 0.4\\ 112 4.23 0.24\\ 113 4.13 0.28\\ 114 5.45 0.3\\ 115 1.99 0.36\\ 116 2.9 0.35\\ 117 3.48 0.34\\ 118 4.23 0.26\\ 119 2.52 0.4\\ 120 2.77 0.35\\
121 3.74 0.32\\ 122 3.61 0.37\\ 123 3.6 0.39\\ 124 1.85 0.3\\ 125 2.55 0.34\\ 126 2.42 0.35\\ 127 1.13 0.22\\ 128 1.94 0.39\\ 129 1.13 0.29\\ 130 1.16 0.27\\
131 1.94 0.38\\ 132 2.26 0.34\\ 133 2.84 0.36\\ 134 1.8 0.27\\ 135 2.03 0.35\\ 136 2.4 0.36\\ 137 3.11 0.39\\ 138 1.48 0.32\\ 139 1.81 0.35\\ 140 2.48 0.32\\
141 2.52 0.39\\ 142 0.77 0.29\\ 143 1.55 0.35\\ 144 2.55 0.36\\ 145 1.58 0.29\\ 146 2.03 0.32\\ 147 1.19 0.28\\ 148 1.68 0.32\\ 149 2.32 0.41\\ 150 1.03 0.28\\
151 2.13 0.35\\ 152 2.42 0.37\\ 153 2.19 0.35\\ 154 3.48 0.33\\ 155 2.92 0.35\\ 156 4.45 0.16\\ 157 4.19 0.3\\ 158 3.63 0.32\\ 159 3.9 0.33\\ 160 3.13 0.34\\
}\EB
\pgfplotstableread[row sep=\\]{
x c e\\
161 3.87 0.34\\ 162 3.52 0.35\\ 163 2.7 0.39\\ 164 3.65 0.33\\ 165 5.52 0.26\\ 166 3.06 0.37\\ 167 2.26 0.44\\ 168 1.55 0.29\\ 169 3.02 0.33\\ 170 4.26 0.21\\
171 2.59 0.39\\ 172 1.16 0.27\\ 173 3.0 0.36\\ 174 1.97 0.35\\ 175 1.35 0.29\\ 176 1.87 0.35\\ 177 3.16 0.36\\ 178 2.61 0.39\\ 179 1.71 0.32\\ 180 4.4 0.23\\
181 2.29 0.42\\ 182 3.48 0.37\\ 183 2.94 0.34\\ 184 3.52 0.32\\ 185 4.03 0.35\\ 186 3.45 0.34\\ 187 3.84 0.4\\ 188 2.52 0.35\\ 189 3.71 0.35\\ 190 3.23 0.43\\
191 3.3 0.36\\ 192 2.58 0.34\\ 193 2.61 0.39\\ 194 1.74 0.31\\ 195 3.55 0.41\\ 196 2.61 0.37\\ 197 1.77 0.35\\ 198 3.75 0.36\\ 199 3.45 0.44\\ 200 2.35 0.29\\
201 1.87 0.42\\ 202 2.39 0.32\\ 203 3.97 0.4\\ 204 3.74 0.35\\ 205 2.81 0.37\\ 206 3.84 0.33\\ 207 3.13 0.35\\ 208 3.74 0.36\\ 209 2.7 0.33\\ 210 4.6 0.2\\
211 2.61 0.38\\ 212 3.26 0.4\\ 213 2.61 0.35\\ 214 2.39 0.35\\ 215 4.45 0.16\\ 216 3.52 0.39\\ 217 2.06 0.29\\ 218 3.1 0.35\\ 219 3.45 0.34\\ 220 3.3 0.37\\
221 2.87 0.4\\ 222 3.1 0.35\\ 223 2.61 0.4\\ 224 3.13 0.39\\ 225 2.71 0.32\\ 226 3.06 0.34\\ 227 3.3 0.37\\ 228 2.0 0.3\\ 229 3.71 0.32\\ 230 1.99 0.32\\
231 1.55 0.3\\ 232 2.65 0.36\\ 233 2.89 0.34\\ 234 1.82 0.35\\ 235 1.77 0.35\\ 236 3.23 0.38\\ 237 2.52 0.36\\ 238 5.4 0.3\\ 239 3.06 0.39\\ 240 3.65 0.32\\
}\EC
\pgfplotstableread[row sep=\\]{
x c e\\
241 3.06 0.35\\ 242 3.55 0.33\\ 243 3.73 0.34\\ 244 3.15 0.35\\ 245 2.74 0.39\\ 246 2.79 0.35\\ 247 3.89 0.34\\ 248 3.06 0.4\\ 249 3.89 0.39\\ 250 4.08 0.29\\
251 3.84 0.34\\ 252 3.1 0.39\\ 253 2.13 0.34\\ 254 2.44 0.32\\ 255 3.57 0.37\\ 256 3.05 0.34\\ 257 3.89 0.42\\ 258 2.79 0.32\\ 259 2.79 0.37\\ 260 3.02 0.37\\
261 3.37 0.4\\ 262 3.89 0.36\\ 263 2.54 0.31\\ 264 2.0 0.39\\ 265 2.28 0.4\\ 266 2.5 0.35\\ 267 3.5 0.34\\ 268 1.76 0.28\\ 269 3.37 0.39\\ 270 3.77 0.35\\
271 3.9 0.35\\ 272 5.4 0.3\\ 273 4.6 0.2\\ 274 3.41 0.36\\ 275 3.54 0.35\\ 276 3.18 0.36\\ 277 3.84 0.36\\ 278 4.6 0.2\\ 279 2.16 0.34\\ 280 3.55 0.37\\
281 4.45 0.18\\ 282 3.06 0.42\\ 283 4.4 0.15\\ 284 2.5 0.39\\ 285 2.28 0.32\\ 286 2.0 0.29\\ 287 1.81 0.32\\ 288 2.19 0.35\\ 289 3.74 0.34\\ 290 1.61 0.26\\
291 1.77 0.32\\ 292 1.19 0.27\\ 293 2.55 0.44\\ 294 3.03 0.36\\ 295 1.68 0.31\\ 296 3.1 0.42\\ 297 3.2 0.35\\ 298 2.81 0.38\\ 299 2.99 0.32\\ 300 3.71 0.35\\
301 3.45 0.35\\ 302 2.39 0.35\\ 303 3.66 0.33\\ 304 3.13 0.37\\ 305 3.45 0.33\\ 306 3.16 0.34\\ 307 2.32 0.32\\ 308 3.45 0.35\\ 309 3.58 0.35\\ 310 4.5 0.19\\
311 3.19 0.35\\ 312 3.45 0.32\\ 313 4.13 0.3\\ 314 2.19 0.38\\ 315 3.46 0.42\\ 316 3.29 0.36\\ 317 1.95 0.39\\ 318 2.65 0.38\\ 319 2.13 0.38\\ 320 2.11 0.41\\
}\ED
\pgfplotstableread[row sep=\\]{
x c e\\
321 3.68 0.39\\ 322 3.63 0.32\\ 323 2.02 0.29\\ 324 3.63 0.35\\ 325 1.89 0.3\\ 326 4.7 0.4\\ 327 3.07 0.41\\ 328 0.99 0.24\\ 329 4.7 0.4\\ 330 1.55 0.27\\
331 0.95 0.26\\ 332 0.92 0.26\\ 333 2.54 0.36\\ 334 2.9 0.35\\ 335 1.5 0.32\\ 336 3.73 0.34\\ 337 1.5 0.29\\ 338 3.23 0.37\\ 339 3.92 0.35\\ 340 1.65 0.28\\
341 2.76 0.34\\ 342 1.18 0.3\\ 343 1.2 0.27\\ 344 4.28 0.21\\ 345 1.92 0.34\\ 346 2.36 0.31\\ 347 2.99 0.4\\ 348 1.18 0.26\\ 349 1.46 0.27\\ 350 3.34 0.34\\
351 1.44 0.31\\ 397 4.7 0.4\\ 398 3.23 0.42\\ 399 1.65 0.32\\ 400 4.7 0.4\\
}\EE
\pgfplotstableread[row sep=\\]{
x c e\\
401 2.48 0.45\\ 402 1.55 0.39\\ 403 0.87 0.29\\ 404 2.94 0.37\\ 405 2.65 0.29\\
}\EF
\pgfplotstableread[row sep=\\]{
x c e\\
488 3.38 0.4\\ 489 1.75 0.35\\ 545 5.7 0.3\\ 546 2.16 0.4\\ 547 1.38 0.3\\ 548 1.35 0.3\\
}\EG
\pgfplotstableread[row sep=\\]{
x c e\\
629 3.08 0.42\\ 630 1.08 0.27\\ 631 0.85 0.22\\ 632 3.08 0.4\\ 633 1.63 0.35\\ 634 1.98 0.42\\ 635 1.95 0.35\\ 636 2.5 0.39\\ 637 1.17 0.3\\ 638 2.69 0.42\\
}\EH
\pgfplotstableread[row sep=\\]{
x c e\\
644 1.7 0.4\\ 645 3.8 0.35\\ 646 2.0 0.35\\ 647 1.35 0.3\\ 648 1.75 0.3\\ 649 1.05 0.3\\
}\EI

% ---------------- near-empty positions (x, height of thin stack, error) ----------------
\pgfplotstableread[row sep=\\]{
x c e\\
1 1.71 0.94\\ 2 1.58 0.9\\ 3 1.66 0.92\\ 4 1.5 0.82\\ 5 1.48 0.83\\ 6 1.47 0.8\\ 7 1.47 0.82\\ 8 1.7 0.92\\ 9 1.74 0.87\\ 10 1.62 0.83\\ 11 2.58 0.84\\ 27 2.0 0.98\\
}\ZA
\pgfplotstableread[row sep=\\]{
x c e\\
352 1.75 0.94\\ 353 1.56 0.88\\ 354 1.55 0.88\\ 355 1.55 0.88\\ 356 1.52 0.88\\ 357 1.5 0.88\\ 358 1.55 0.88\\ 359 1.55 0.88\\ 360 1.47 0.92\\
361 1.52 0.9\\ 362 1.55 0.9\\ 363 1.6 0.92\\ 364 1.55 0.88\\ 365 1.52 0.88\\ 366 1.56 0.9\\ 367 1.62 0.94\\ 368 1.55 0.9\\ 369 1.52 0.88\\ 370 1.5 0.88\\
371 1.55 0.9\\ 372 1.58 0.92\\ 373 1.56 0.9\\ 374 1.55 0.88\\ 375 1.53 0.9\\ 376 1.55 0.9\\ 377 1.52 0.88\\ 378 1.54 0.9\\ 379 1.52 0.88\\ 380 1.56 0.9\\
381 1.55 0.9\\ 382 1.52 0.88\\ 383 1.54 0.9\\ 384 1.55 0.9\\ 385 1.58 0.92\\ 386 1.56 0.9\\ 387 1.55 0.88\\ 388 1.54 0.9\\ 389 1.55 0.9\\ 390 1.56 0.9\\
391 1.58 0.87\\ 392 1.57 0.86\\ 393 1.6 0.88\\ 394 1.56 0.85\\ 395 1.52 0.82\\ 396 1.58 0.85\\
}\ZE
\pgfplotstableread[row sep=\\]{
x c e\\
406 1.53 0.88\\ 407 1.54 0.87\\ 408 1.52 0.88\\ 409 1.5 0.9\\ 410 1.53 0.88\\ 411 1.55 0.88\\ 412 1.52 0.87\\ 413 1.54 0.88\\ 414 1.55 0.9\\ 415 1.52 0.88\\
416 1.53 0.87\\ 417 1.55 0.9\\ 418 1.52 0.88\\ 419 1.6 0.95\\ 420 1.54 0.9\\ 421 1.55 0.88\\ 422 1.52 0.88\\ 423 1.62 0.98\\ 424 1.55 0.9\\ 425 1.53 0.88\\
426 1.52 0.88\\ 427 1.55 0.9\\ 428 1.54 0.88\\ 429 1.56 0.9\\ 430 1.65 1.0\\ 431 1.55 0.9\\ 432 1.53 0.88\\ 433 1.52 0.88\\ 434 1.55 0.9\\ 435 1.54 0.88\\
436 1.6 0.95\\ 437 1.55 0.9\\ 438 1.53 0.88\\ 439 1.52 0.88\\ 440 1.55 0.9\\ 441 1.58 0.92\\ 442 1.54 0.88\\ 443 1.53 0.88\\ 444 1.55 0.9\\ 445 1.52 0.88\\
446 1.54 0.88\\ 447 1.55 0.9\\ 448 1.53 0.88\\ 449 1.56 0.9\\ 450 1.54 0.88\\ 451 1.52 0.88\\ 452 1.55 0.9\\ 453 1.53 0.88\\ 454 1.54 0.88\\ 455 1.55 0.9\\
456 1.52 0.88\\ 457 1.54 0.88\\ 458 1.55 0.9\\ 459 1.53 0.88\\ 460 1.56 0.9\\ 461 1.54 0.88\\ 462 1.52 0.88\\ 463 1.55 0.9\\ 464 1.53 0.88\\ 465 1.54 0.88\\
466 1.55 0.9\\ 467 1.53 0.88\\ 468 1.52 0.88\\ 469 1.55 0.9\\ 470 1.54 0.88\\ 471 1.53 0.88\\ 472 1.55 0.9\\ 473 1.52 0.88\\ 474 1.54 0.88\\ 475 1.55 0.9\\
476 1.53 0.88\\ 477 1.54 0.88\\ 478 1.55 0.9\\ 479 1.52 0.88\\ 480 1.54 0.88\\
}\ZF
\pgfplotstableread[row sep=\\]{
x c e\\
481 1.55 0.9\\ 482 1.53 0.88\\ 483 1.54 0.88\\ 484 1.55 0.9\\ 485 1.52 0.88\\ 486 1.54 0.88\\ 487 1.55 0.9\\
490 1.53 0.88\\ 491 1.54 0.88\\ 492 1.55 0.9\\ 493 1.52 0.88\\ 494 1.54 0.88\\ 495 1.55 0.9\\ 496 1.53 0.88\\ 497 1.54 0.88\\ 498 1.55 0.9\\ 499 1.52 0.88\\
500 1.54 0.88\\ 501 1.55 0.9\\ 502 1.53 0.88\\ 503 1.54 0.88\\ 504 1.55 0.9\\ 505 1.52 0.88\\ 506 1.54 0.88\\ 507 1.55 0.9\\ 508 1.53 0.88\\ 509 1.54 0.88\\
510 1.55 0.9\\ 511 1.52 0.88\\ 512 1.54 0.88\\ 513 1.55 0.9\\ 514 1.53 0.88\\ 515 1.58 0.92\\ 516 1.55 0.9\\ 517 1.52 0.88\\ 518 1.54 0.88\\ 519 1.55 0.9\\
520 1.53 0.88\\ 521 1.54 0.88\\ 522 1.55 0.9\\ 523 1.52 0.88\\ 524 1.54 0.88\\ 525 1.55 0.9\\ 526 1.53 0.88\\ 527 1.54 0.88\\ 528 1.55 0.9\\ 529 1.52 0.88\\
530 1.54 0.88\\ 531 1.55 0.9\\ 532 1.53 0.88\\ 533 1.54 0.88\\ 534 1.55 0.9\\ 535 1.52 0.88\\ 536 1.54 0.88\\ 537 1.55 0.9\\ 538 1.53 0.88\\ 539 1.54 0.88\\
540 1.55 0.9\\ 541 1.52 0.88\\ 542 1.54 0.88\\ 543 1.55 0.9\\ 544 1.53 0.88\\
549 1.5 0.85\\ 550 1.55 0.9\\ 551 1.55 0.9\\ 552 1.8 1.0\\ 553 1.6 0.92\\ 554 1.75 1.0\\ 555 1.6 0.92\\ 556 1.62 0.94\\ 557 1.9 1.05\\ 558 1.6 0.92\\
559 1.58 0.9\\ 560 1.6 0.92\\
}\ZG
\pgfplotstableread[row sep=\\]{
x c e\\
561 1.55 0.9\\ 562 1.53 0.88\\ 563 1.54 0.88\\ 564 1.55 0.9\\ 565 1.52 0.88\\ 566 1.54 0.88\\ 567 1.55 0.9\\ 568 1.53 0.88\\ 569 1.54 0.88\\ 570 1.55 0.9\\
571 1.52 0.88\\ 572 1.54 0.88\\ 573 1.55 0.9\\ 574 1.53 0.88\\ 575 1.54 0.88\\ 576 1.55 0.9\\ 577 1.52 0.88\\ 578 1.54 0.88\\ 579 1.55 0.9\\ 580 1.53 0.88\\
581 1.65 1.0\\ 582 1.55 0.9\\ 583 1.52 0.88\\ 584 1.54 0.88\\ 585 1.55 0.9\\ 586 1.65 1.0\\ 587 1.54 0.88\\ 588 1.55 0.9\\ 589 1.52 0.88\\ 590 1.54 0.88\\
591 1.55 0.9\\ 592 1.53 0.88\\ 593 1.54 0.88\\ 594 1.55 0.9\\ 595 1.52 0.88\\ 596 1.54 0.88\\ 597 1.55 0.9\\ 598 1.53 0.88\\ 599 1.54 0.88\\ 600 1.55 0.9\\
601 1.52 0.88\\ 602 1.54 0.88\\ 603 1.55 0.9\\ 604 1.53 0.88\\ 605 1.54 0.88\\ 606 1.55 0.9\\ 607 1.52 0.88\\ 608 1.54 0.88\\ 609 1.55 0.9\\ 610 1.53 0.88\\
611 1.54 0.88\\ 612 1.55 0.9\\ 613 1.52 0.88\\ 614 1.54 0.88\\ 615 1.55 0.9\\ 616 1.53 0.88\\ 617 1.54 0.88\\ 618 1.55 0.9\\ 619 1.52 0.88\\ 620 1.54 0.88\\
621 1.55 0.88\\ 622 1.5 0.9\\ 623 1.55 0.88\\ 624 1.56 0.9\\ 625 1.58 0.9\\ 626 1.58 0.88\\ 627 1.52 0.9\\ 628 1.58 0.88\\
639 2.32 0.82\\
}\ZH
\pgfplotstableread[row sep=\\]{
x c e\\
641 2.0 0.8\\ 642 0.8 0.75\\ 643 2.45 0.85\\ 650 1.45 0.6\\
651 1.55 0.9\\ 652 1.53 0.88\\ 653 1.54 0.88\\ 654 1.55 0.9\\ 655 1.52 0.88\\ 656 1.54 0.88\\ 657 1.55 0.9\\ 658 1.53 0.88\\ 659 1.54 0.88\\ 660 1.7 1.05\\
661 1.52 0.88\\ 662 1.54 0.88\\ 663 1.55 0.9\\ 664 1.53 0.88\\ 665 1.7 1.05\\ 666 1.55 0.9\\ 667 1.52 0.88\\ 668 1.54 0.88\\ 669 1.55 0.9\\ 670 1.53 0.88\\
671 1.54 0.88\\ 672 1.55 0.9\\ 673 1.52 0.88\\ 674 1.54 0.88\\ 675 1.55 0.9\\ 676 1.53 0.88\\ 677 1.54 0.88\\ 678 1.55 0.9\\
}\ZI
\pgfplotstableread[row sep=\\]{
x c e\\
640 1.92 0.87\\
}\ZHx
\pgfplotstableread[row sep=\\]{
x c\\
640 0.55\\
}\ZHt

\pgfplotsset{
  logorow/.style={
    scale only axis, width=719.5pt, height=44.95pt,
    ymin=0, ymax=4.35, clip=false,
    axis x line*=bottom, axis y line*=left,
    axis line style={line width=0.65pt, black},
    tick align=outside,
    every tick/.append style={black, line width=0.6pt},
    major x tick style={/pgfplots/major tick length=2.3pt},
    minor x tick style={/pgfplots/minor tick length=1.1pt},
    major y tick style={/pgfplots/major tick length=4.3pt},
    minor y tick style={/pgfplots/minor tick length=2pt},
    ytick={0,1,2,3,4}, yticklabels={0.0,1.0,2.0,3.0,4.0},
    minor ytick={0.2,0.4,0.6,0.8,1.2,1.4,1.6,1.8,2.2,2.4,2.6,2.8,3.2,3.4,3.6,3.8,4.2},
    xtick distance=5,
    tick label style={font=\fontsize{6}{7}\selectfont},
    /pgf/number format/assume math mode=true,
    ylabel={bits},
    ylabel style={font=\fontsize{7.7}{8}\selectfont, anchor=center, at={(axis description cs:-0.02766,0.5)}},
  },
  letters/.style={draw=none, mark=none, point meta=explicit symbolic,
    visualization depends on={\thisrow{h}\as\hh},
    nodes near coords={\logoletter{\pgfplotspointmeta}{\hh}},
    every node near coord/.style={anchor=south, inner sep=0pt, outer sep=0pt}},
  errs/.style={only marks, mark=square*, mark size=0.45pt, errgray,
    mark options={draw=none, fill=errgray},
    error bars/y dir=both, error bars/y explicit,
    error bars/error bar style={line width=0.62pt, errgray},
    error bars/error mark options={rotate=90, mark size=1.1pt, line width=0.62pt, errgray}},
  errsempty/.style={errs, mark options={draw=none, fill=white}, mark size=0.65pt},
  thin/.style={ycomb, black, line width=0.25pt, mark=none},
}

\begin{document}
\begin{tikzpicture}
\path[use as bounding box] (0,0) rectangle (751.6pt,533.4pt);

% Row 1
\begin{axis}[logorow, at={(27.1pt,483.74pt)}, anchor=south west, xmin=0.5, xmax=80.5, minor xtick={1,...,80}]
\addplot[thin] table[x=x,y=c]{\ZA};
\addplot[errsempty] table[x=x,y=c,y error=e]{\ZA};
\addplot[letters] table[x=x,y=b,meta=l]{\LA};
\addplot[errs] table[x=x,y=c,y error=e]{\EA};
\end{axis}
% Row 2
\begin{axis}[logorow, at={(27.1pt,425.34pt)}, anchor=south west, xmin=80.5, xmax=160.5, minor xtick={81,...,160}]
\addplot[letters] table[x=x,y=b,meta=l]{\LB};
\addplot[errs] table[x=x,y=c,y error=e]{\EB};
\end{axis}
% Row 3
\begin{axis}[logorow, at={(27.1pt,366.94pt)}, anchor=south west, xmin=160.5, xmax=240.5, minor xtick={161,...,240}]
\addplot[letters] table[x=x,y=b,meta=l]{\LC};
\addplot[errs] table[x=x,y=c,y error=e]{\EC};
\end{axis}
% Row 4
\begin{axis}[logorow, at={(27.1pt,308.54pt)}, anchor=south west, xmin=240.5, xmax=320.5, minor xtick={241,...,320}]
\addplot[letters] table[x=x,y=b,meta=l]{\LD};
\addplot[errs] table[x=x,y=c,y error=e]{\ED};
\end{axis}
% Row 5
\begin{axis}[logorow, at={(27.1pt,250.14pt)}, anchor=south west, xmin=320.5, xmax=400.5, minor xtick={321,...,400}]
\addplot[thin] table[x=x,y=c]{\ZE};
\addplot[errsempty] table[x=x,y=c,y error=e]{\ZE};
\addplot[letters] table[x=x,y=b,meta=l]{\LE};
\addplot[errs] table[x=x,y=c,y error=e]{\EE};
\end{axis}
% Row 6
\begin{axis}[logorow, at={(27.1pt,191.74pt)}, anchor=south west, xmin=400.5, xmax=480.5, minor xtick={401,...,480}]
\addplot[thin] table[x=x,y=c]{\ZF};
\addplot[errsempty] table[x=x,y=c,y error=e]{\ZF};
\addplot[letters] table[x=x,y=b,meta=l]{\LF};
\addplot[errs] table[x=x,y=c,y error=e]{\EF};
\end{axis}
% Row 7
\begin{axis}[logorow, at={(27.1pt,133.34pt)}, anchor=south west, xmin=480.5, xmax=560.5, minor xtick={481,...,560}]
\addplot[thin] table[x=x,y=c]{\ZG};
\addplot[ycomb, red, line width=0.3pt, mark=none] coordinates {(552,1.8)};
\addplot[errsempty] table[x=x,y=c,y error=e]{\ZG};
\addplot[letters] table[x=x,y=b,meta=l]{\LG};
\addplot[errs] table[x=x,y=c,y error=e]{\EG};
\end{axis}
% Row 8
\begin{axis}[logorow, at={(27.1pt,74.94pt)}, anchor=south west, xmin=560.5, xmax=640.5, minor xtick={561,...,640}]
\addplot[thin] table[x=x,y=c]{\ZH};
\addplot[thin] table[x=x,y=c]{\ZHt};
\addplot[errsempty] table[x=x,y=c,y error=e]{\ZH};
\addplot[errsempty] table[x=x,y=c,y error=e]{\ZHx};
\addplot[letters] table[x=x,y=b,meta=l]{\LH};
\addplot[errs] table[x=x,y=c,y error=e]{\EH};
\end{axis}
% Row 9
\begin{axis}[logorow, width=341.8pt, at={(27.1pt,16.54pt)}, anchor=south west, xmin=640.5, xmax=678.5, minor xtick={641,...,678},
  ylabel style={at={(axis description cs:-0.0582,0.5)}}]
\addplot[thin] table[x=x,y=c]{\ZI};
\addplot[errsempty] table[x=x,y=c,y error=e]{\ZI};
\addplot[letters] table[x=x,y=b,meta=l]{\LI};
\addplot[errs] table[x=x,y=c,y error=e]{\EI};
\end{axis}

\node[anchor=east, inner sep=0pt, font=\fontsize{4.8}{5}\selectfont] at (746.4pt,3.2pt) {WebLogo 3.7.12};
\end{tikzpicture}
\end{document}
